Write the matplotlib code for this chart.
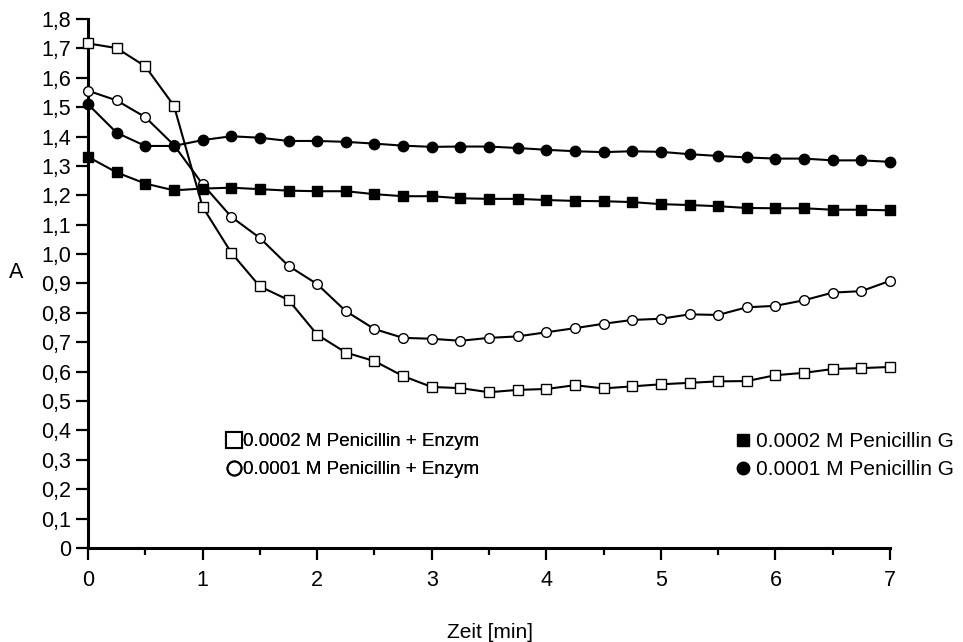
import numpy as np
import matplotlib.pyplot as plt
from matplotlib.ticker import FuncFormatter, MultipleLocator
from matplotlib.lines import Line2D

plt.rcParams['font.family'] = ['Liberation Sans', 'DejaVu Sans']

# Zeit in Minuten (alle 15 s)
zeit = np.arange(29) * 0.25

pen2_enzym = [1.717, 1.701, 1.639, 1.505, 1.161, 1.005, 0.890, 0.844, 0.726,
              0.665, 0.636, 0.585, 0.548, 0.544, 0.530, 0.538, 0.541, 0.554,
              0.543, 0.550, 0.557, 0.562, 0.567, 0.568, 0.588, 0.596, 0.609,
              0.612, 0.616]
pen1_enzym = [1.556, 1.523, 1.466, 1.371, 1.238, 1.127, 1.055, 0.960, 0.898,
              0.806, 0.745, 0.715, 0.712, 0.705, 0.715, 0.720, 0.734, 0.748,
              0.763, 0.776, 0.780, 0.795, 0.793, 0.819, 0.824, 0.843, 0.869,
              0.874, 0.909]
pen2_g = [1.331, 1.278, 1.240, 1.217, 1.223, 1.226, 1.221, 1.216, 1.214,
          1.214, 1.204, 1.197, 1.197, 1.190, 1.188, 1.188, 1.184, 1.181,
          1.180, 1.177, 1.170, 1.167, 1.163, 1.157, 1.156, 1.156, 1.151,
          1.151, 1.149]
pen1_g = [1.510, 1.413, 1.368, 1.368, 1.388, 1.401, 1.396, 1.385, 1.385,
          1.382, 1.376, 1.369, 1.365, 1.366, 1.366, 1.361, 1.355, 1.350,
          1.347, 1.350, 1.348, 1.340, 1.334, 1.329, 1.325, 1.325, 1.319,
          1.319, 1.314]

labels_enzym = ['0.0002 M Penicillin + Enzym', '0.0001 M Penicillin + Enzym']
labels_g = ['0.0002 M Penicillin G', '0.0001 M Penicillin G']

fig = plt.figure(figsize=(9.63, 6.42), dpi=100)
ax = fig.add_axes([88 / 963, 1 - 548 / 642, 802 / 963, 529 / 642])

lw = 1.5
ax.plot(zeit, pen2_enzym, color='black', lw=lw, marker='s', ms=7,
        mfc='white', mec='black', mew=1.0, clip_on=False, zorder=3)
ax.plot(zeit, pen1_enzym, color='black', lw=lw, marker='o', ms=7,
        mfc='white', mec='black', mew=1.0, clip_on=False, zorder=3)
ax.plot(zeit, pen2_g, color='black', lw=lw, marker='s', ms=7.5,
        mfc='black', mec='black', clip_on=False, zorder=3)
ax.plot(zeit, pen1_g, color='black', lw=lw, marker='o', ms=7.5,
        mfc='black', mec='black', clip_on=False, zorder=3)

ax.set_xlim(0, 7)
ax.set_ylim(0, 1.8)
ax.xaxis.set_major_locator(MultipleLocator(1))
ax.xaxis.set_minor_locator(MultipleLocator(0.5))
ax.yaxis.set_major_locator(MultipleLocator(0.1))
ax.yaxis.set_major_formatter(FuncFormatter(
    lambda v, p: '0' if abs(v) < 1e-9 else f'{v:.1f}'.replace('.', ',')))

for side in ['top', 'right']:
    ax.spines[side].set_visible(False)
for side in ['left', 'bottom']:
    ax.spines[side].set_linewidth(2.2)
ax.tick_params(axis='both', which='major', direction='out', length=8.5,
               width=1.6, labelsize=15.5, pad=3.5)
ax.tick_params(axis='x', which='minor', direction='out', length=5, width=1.6)
ax.tick_params(axis='x', which='major', pad=7)

fig.text(16 / 963, 1 - 272 / 642, 'A', fontsize=15.5, ha='center',
         va='center')
fig.text(490 / 963, 1 - 632 / 642, 'Zeit [min]', fontsize=15,
         ha='center', va='center')

h_enzym = [Line2D([], [], ls='none', marker='s', ms=11, mfc='white',
                  mec='black', mew=1.5),
           Line2D([], [], ls='none', marker='o', ms=10, mfc='white',
                  mec='black', mew=1.5)]
h_g = [Line2D([], [], ls='none', marker='s', ms=9, mfc='black', mec='black'),
       Line2D([], [], ls='none', marker='o', ms=9, mfc='black', mec='black')]

leg1 = fig.legend(h_enzym, labels_enzym, loc='upper left',
                  bbox_to_anchor=(227 / 963, 1 - 433 / 642), frameon=False,
                  fontsize=13.5, handlelength=0.75, handletextpad=0.1,
                  borderpad=0, borderaxespad=0, labelspacing=0.6)
leg2 = fig.legend(h_g, labels_g, loc='upper left',
                  bbox_to_anchor=(736 / 963, 1 - 432 / 642), frameon=False,
                  fontsize=15, handlelength=0.65, handletextpad=0.3,
                  borderpad=0, borderaxespad=0, labelspacing=0.45)
fig.add_artist(leg1)

fig.savefig('out.png', dpi=100)
